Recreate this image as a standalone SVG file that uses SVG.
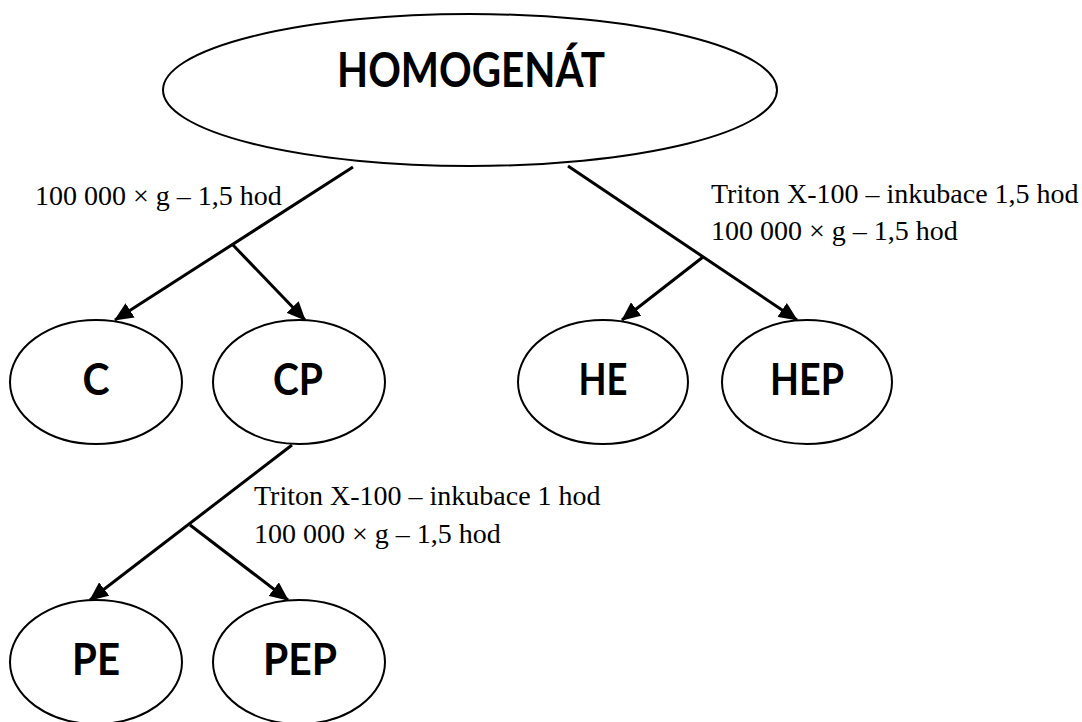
<svg xmlns="http://www.w3.org/2000/svg" width="1082" height="722" viewBox="0 0 1082 722">
<defs>
<style>
.node ellipse{fill:#fff;stroke:#000;stroke-width:2}
.nt{font-family:Lato,"Open Sans",sans-serif;font-weight:bold;font-size:44px;fill:#000;text-anchor:middle}
.lbl{font-family:"Liberation Serif","Times New Roman",serif;font-size:28px;fill:#000}
.edge{stroke:#000;stroke-width:3;fill:none}
</style>
<marker id="arr" markerUnits="userSpaceOnUse" viewBox="0 0 18 16" refX="17" refY="8" markerWidth="19" markerHeight="17" orient="auto">
<path d="M0,0 L18,8 L0,16 Z" fill="#000"/>
</marker>
</defs>
<rect width="1082" height="722" fill="#fff"/>
<g id="connectors">
<line class="edge" x1="353" y1="167" x2="115" y2="320" marker-end="url(#arr)"/>
<line class="edge" x1="232" y1="244" x2="305" y2="320" marker-end="url(#arr)"/>
<line class="edge" x1="568" y1="166" x2="797" y2="320" marker-end="url(#arr)"/>
<line class="edge" x1="703" y1="257" x2="622" y2="320" marker-end="url(#arr)"/>
<line class="edge" x1="292" y1="445" x2="90" y2="600" marker-end="url(#arr)"/>
<line class="edge" x1="190" y1="525" x2="288" y2="600" marker-end="url(#arr)"/>
</g>
<g id="labels">
<text class="lbl" x="35" y="205">100 000 × g – 1,5 hod</text>
<text class="lbl" x="711" y="203">Triton X-100 – inkubace 1,5 hod</text>
<text class="lbl" x="711" y="240">100 000 × g – 1,5 hod</text>
<text class="lbl" x="254" y="505">Triton X-100 – inkubace 1 hod</text>
<text class="lbl" x="254" y="543">100 000 × g – 1,5 hod</text>
</g>
<g id="homogenat" class="node">
<ellipse cx="470" cy="90" rx="307" ry="76"/>
<text class="nt" x="471" y="87" style="font-size:47px" textLength="268" lengthAdjust="spacingAndGlyphs">HOMOGENÁT</text>
</g>
<g id="c" class="node">
<ellipse cx="96" cy="382" rx="86" ry="62"/>
<text class="nt" x="96" y="395" textLength="27" lengthAdjust="spacingAndGlyphs">C</text>
</g>
<g id="cp" class="node">
<ellipse cx="299" cy="382" rx="86" ry="62"/>
<text class="nt" x="298" y="395" textLength="50" lengthAdjust="spacingAndGlyphs">CP</text>
</g>
<g id="he" class="node">
<ellipse cx="603" cy="382" rx="85" ry="62"/>
<text class="nt" x="603" y="395" textLength="49" lengthAdjust="spacingAndGlyphs">HE</text>
</g>
<g id="hep" class="node">
<ellipse cx="807" cy="382" rx="85" ry="62"/>
<text class="nt" x="807" y="395" textLength="74" lengthAdjust="spacingAndGlyphs">HEP</text>
</g>
<g id="pe" class="node">
<ellipse cx="96" cy="662" rx="86" ry="62"/>
<text class="nt" x="96" y="675" textLength="48" lengthAdjust="spacingAndGlyphs">PE</text>
</g>
<g id="pep" class="node">
<ellipse cx="299" cy="662" rx="86" ry="62"/>
<text class="nt" x="300" y="675" textLength="74" lengthAdjust="spacingAndGlyphs">PEP</text>
</g>
</svg>
